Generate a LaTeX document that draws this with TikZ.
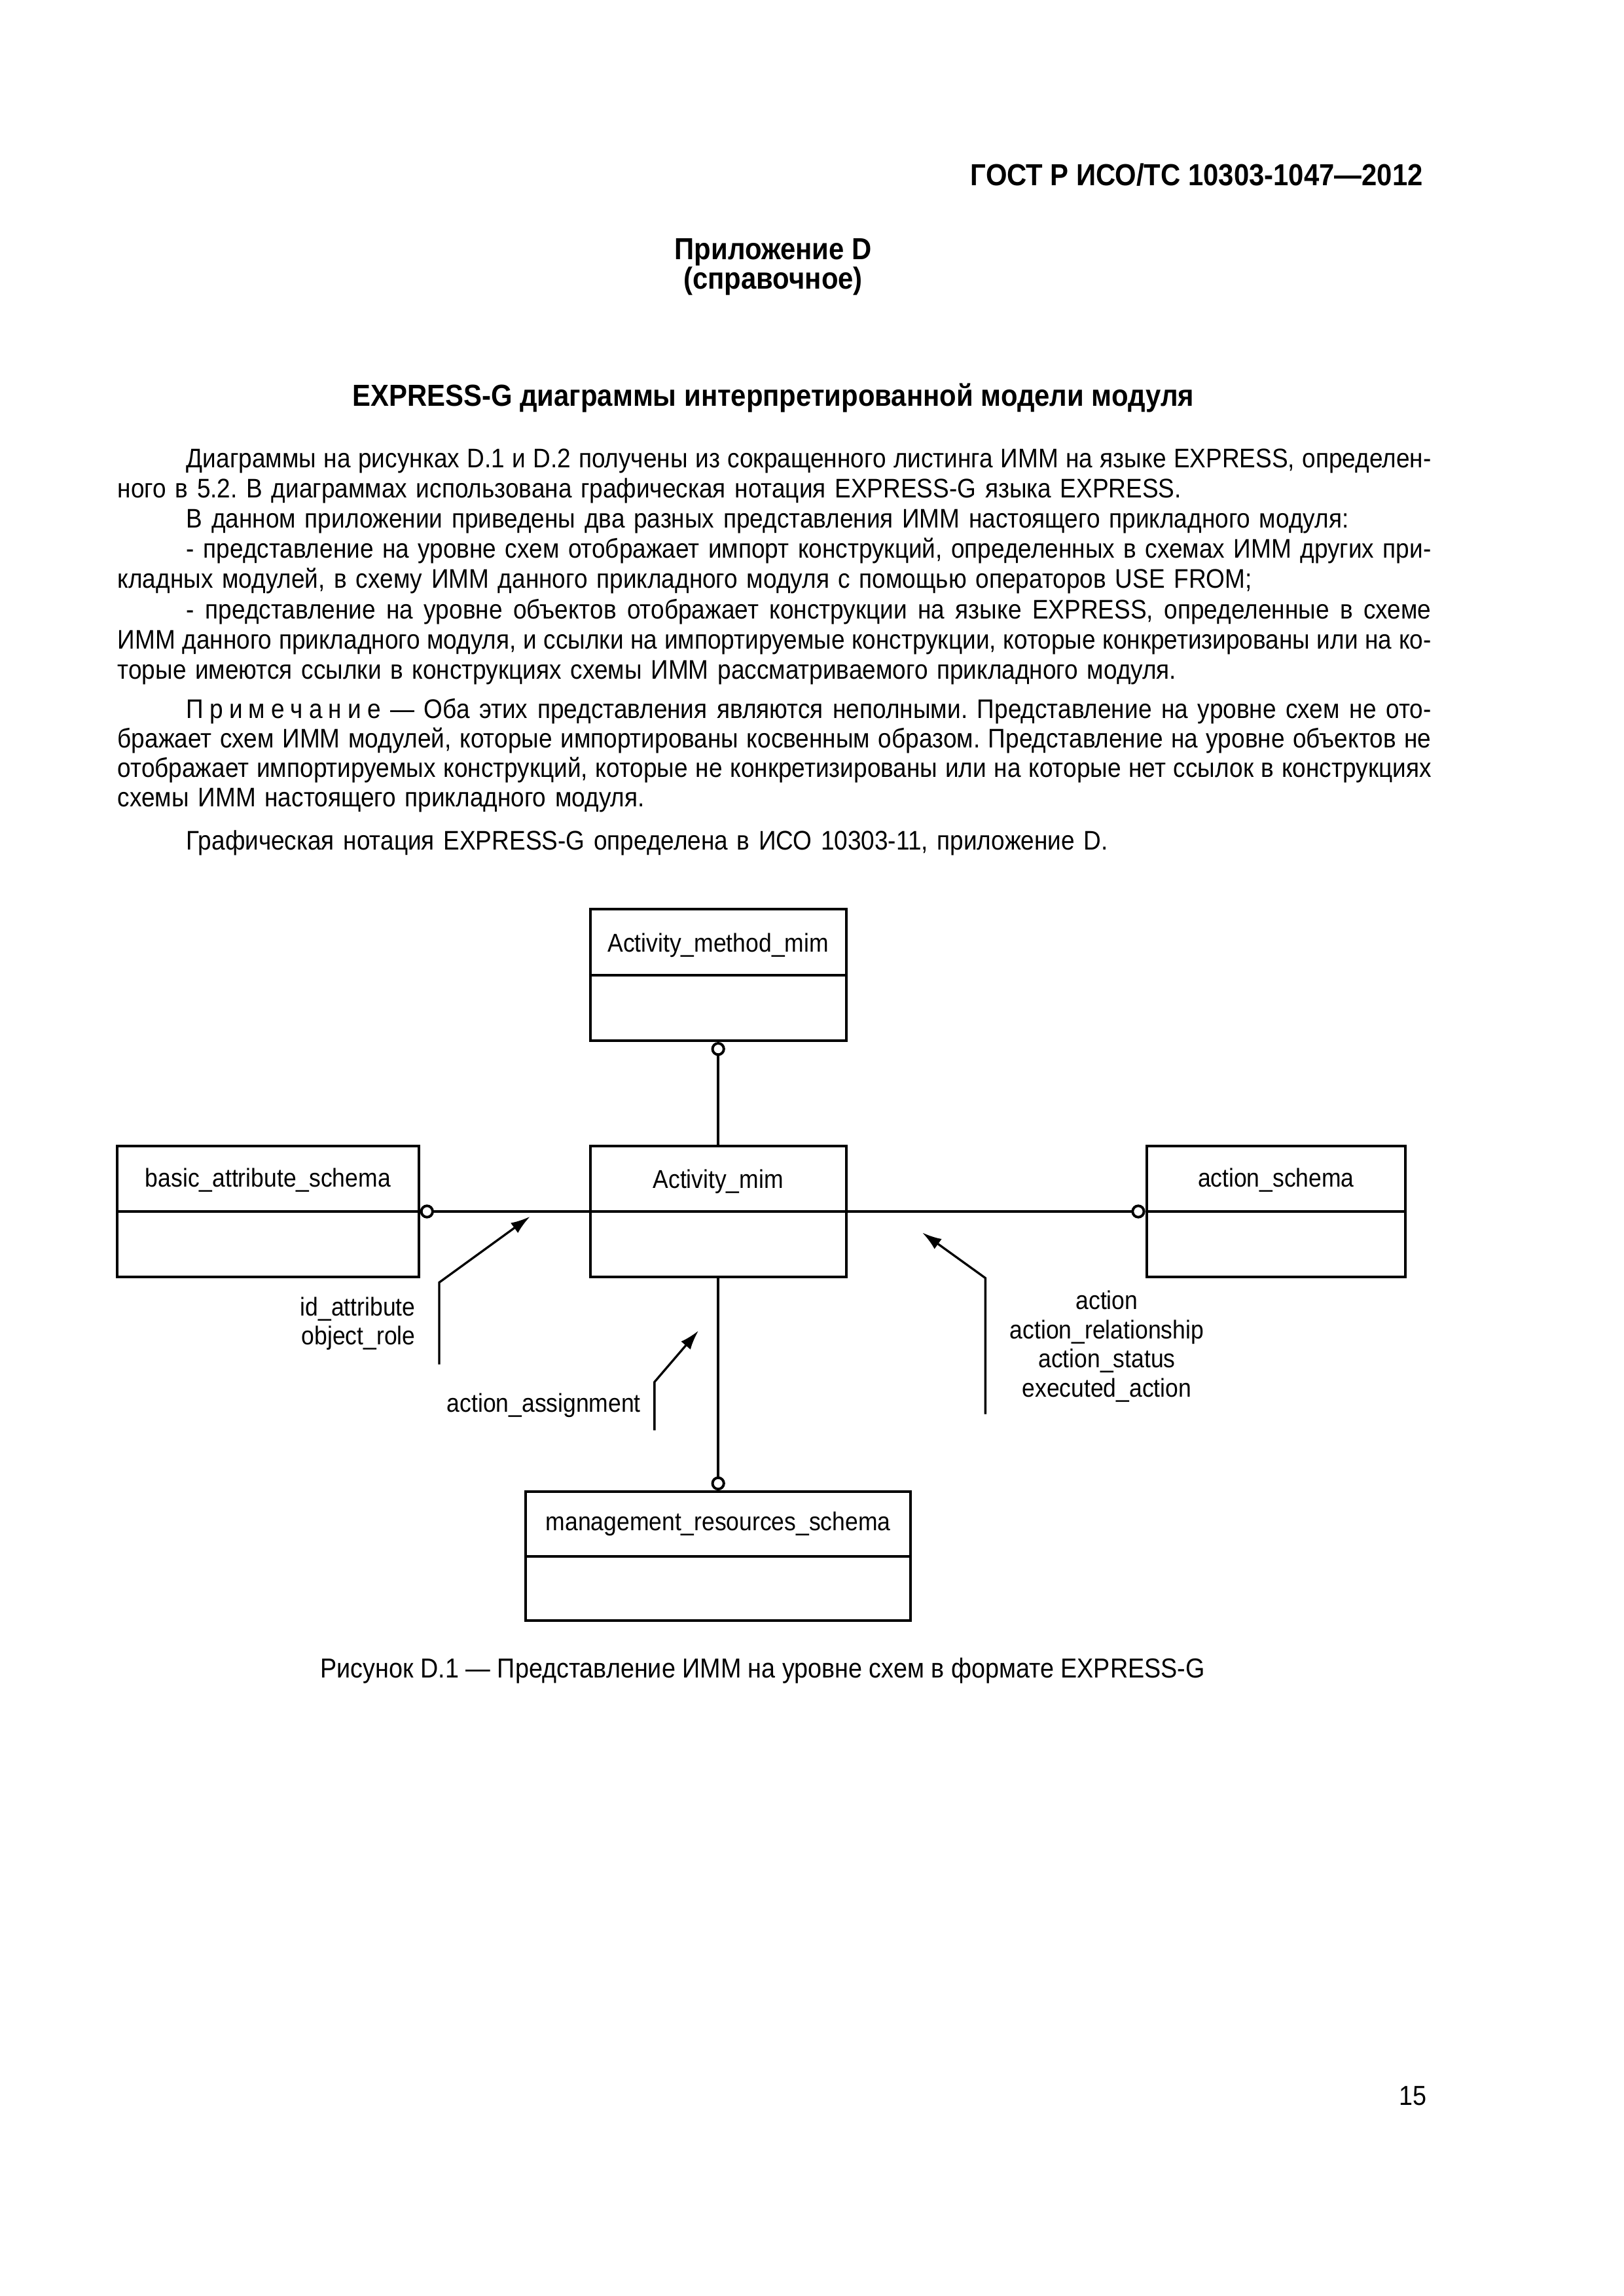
\documentclass[tikz,border=0pt]{standalone}
\usepackage{fontspec}
\setmainfont{Liberation Sans}[FakeStretch=0.9]
\usetikzlibrary{arrows.meta, positioning}
\frenchspacing

\newlength\bodywd
\setlength\bodywd{16.99cm}
\newlength\paraind
\setlength\paraind{0.89cm}
% justified line, indented justified line, indented plain line
\newcommand\tightspace{\spaceskip=.6\fontdimen2\font plus 1\fontdimen2\font\relax}
\newcommand\jline[1]{\makebox[\bodywd][s]{\tightspace #1}}
\newcommand\jfirst[1]{\hspace*{\paraind}\makebox[\dimexpr\bodywd-\paraind\relax][s]{\tightspace #1}}
\newcommand\jplain[1]{\hspace*{\paraind}#1}

\begin{document}
\begin{tikzpicture}[
    schema/.style={draw, line width=0.95pt, minimum width=3.31cm, minimum height=1.70cm,
                   inner sep=0pt},
    schemaname/.style={font=\fontsize{9.5}{11}\selectfont, inner sep=0pt},
    divider/.style={line width=0.95pt},
    uselink/.style={line width=0.95pt, -{Circle[open, length=1.8mm, line width=0.95pt]}},
    refnote/.style={line width=0.8pt, -{Latex[length=2.5mm, width=1.6mm]}},
    reflabel/.style={font=\fontsize{9.5}{10.7}\selectfont, inner sep=0pt},
    bodytext/.style={font=\fontsize{9.9}{11.1}\selectfont, text width=\bodywd, align=left,
                     anchor=base west, inner sep=0pt},
    headtext/.style={font=\fontsize{11.2}{13}\bfseries, inner sep=0pt, anchor=base}
]
    \fill[white] (0,0) rectangle (21,-29.7);
    \useasboundingbox (0,0) rectangle (21,-29.7);

    % Page head
    \node[headtext, anchor=base east] (gost) at (18.41,-2.396) {ГОСТ Р ИСО/ТС 10303-1047—2012};
    \node[headtext] (annex) at (10.0,-3.361) {Приложение D};
    \node[headtext] (annexkind) at (10.0,-3.740) {(справочное)};
    \node[headtext] (title) at (10.0,-5.255) {EXPRESS-G диаграммы интерпретированной модели модуля};

    % Body text
    \node[bodytext] (intro) at (1.515,-6.050) {%
        \jfirst{Диаграммы на рисунках D.1 и D.2 получены из сокращенного листинга ИММ на языке EXPRESS, определен-}\\
        ного в 5.2. В диаграммах использована графическая нотация EXPRESS-G языка EXPRESS.\\
        \jplain{В данном приложении приведены два разных представления ИММ настоящего прикладного модуля:}\\
        \jfirst{- представление на уровне схем отображает импорт конструкций, определенных в схемах ИММ других при-}\\
        кладных модулей, в схему ИММ данного прикладного модуля с помощью операторов USE FROM;\\
        \jfirst{- представление на уровне объектов отображает конструкции на языке EXPRESS, определенные в схеме}\\
        \jline{ИММ данного прикладного модуля, и ссылки на импортируемые конструкции, которые конкретизированы или на ко-}\\
        торые имеются ссылки в конструкциях схемы ИММ рассматриваемого прикладного модуля.};
    \node[bodytext, font=\fontsize{9.9}{10.9}\selectfont] (remark) at (1.515,-9.289) {%
        \jfirst{П\kern.22em р\kern.22em и\kern.22em м\kern.22em е\kern.22em ч\kern.22em а\kern.22em н\kern.22em и\kern.22em е — Оба этих представления являются неполными. Представление на уровне схем не ото-}\\
        \jline{бражает схем ИММ модулей, которые импортированы косвенным образом. Представление на уровне объектов не}\\
        \jline{отображает импортируемых конструкций, которые не конкретизированы или на которые нет ссылок в конструкциях}\\
        схемы ИММ настоящего прикладного модуля.};
    \node[bodytext] (notation) at (1.515,-10.993) {%
        \jplain{Графическая нотация EXPRESS-G определена в ИСО 10303-11, приложение D.}};

    % Schemas
    \node[schema] (actmethod) at (9.289,-12.612) {};
    \node[schema] (actmim) at (9.289,-15.671) {};
    \node[schema, minimum width=3.90cm] (basicattr) at (3.466,-15.671) {};
    \node[schema, minimum width=3.35cm] (actschema) at (16.504,-15.671) {};
    \node[schema, minimum width=4.98cm, minimum height=1.67cm] (mgmtres) at (9.289,-20.130) {};

    \draw[divider] (actmethod.west) -- (actmethod.east);
    \draw[divider] (actmim.west) -- (actmim.east);
    \draw[divider] (basicattr.west) -- (basicattr.east);
    \draw[divider] (actschema.west) -- (actschema.east);
    \draw[divider] (mgmtres.west) -- (mgmtres.east);

    \node[schemaname] (actmethodname) at ([yshift=-0.48cm]actmethod.north) {Activity\_method\_mim};
    \node[schemaname] (actmimname) at ([yshift=-0.48cm]actmim.north) {Activity\_mim};
    \node[schemaname] (basicattrname) at ([yshift=-0.46cm]basicattr.north) {basic\_attribute\_schema};
    \node[schemaname] (actschemaname) at ([yshift=-0.46cm]actschema.north) {action\_schema};
    \node[schemaname] (mgmtresname) at ([yshift=-0.43cm]mgmtres.north) {management\_resources\_schema};

    % USE FROM links
    \draw[uselink] (actmim.north) -- (actmethod.south);
    \draw[uselink] (actmim.west) -- (basicattr.east);
    \draw[uselink] (actmim.east) -- (actschema.west);
    \draw[uselink] (actmim.south) -- (mgmtres.north);

    % Imported constructs
    \coordinate (attrfoot) at (5.681,-17.649);
    \coordinate (attrbend) at (5.681,-16.589);
    \coordinate (attrtip) at (6.855,-15.737);
    \draw[refnote] (attrfoot) -- (attrbend) -- (attrtip);
    \node[reflabel, align=right, anchor=north east] (attrlist) at (5.378,-16.77)
        {id\_attribute\\object\_role};

    \coordinate (assignfoot) at (8.465,-18.501);
    \coordinate (assignbend) at (8.465,-17.877);
    \coordinate (assigntip) at (9.033,-17.214);
    \draw[refnote] (assignfoot) -- (assignbend) -- (assigntip);
    \node[reflabel, anchor=east] (assignlist) at (8.294,-18.18) {action\_assignment};

    \coordinate (actfoot) at (12.745,-18.293);
    \coordinate (actbend) at (12.745,-16.532);
    \coordinate (acttip) at (11.930,-15.945);
    \draw[refnote] (actfoot) -- (actbend) -- (acttip);
    \node[reflabel, align=center, anchor=north] (actlist) at (14.316,-16.69)
        {action\\action\_relationship\\action\_status\\executed\_action};

    % Caption and page number
    \node[font=\fontsize{10.1}{12}\selectfont, inner sep=0pt, anchor=base] (caption) at (9.866,-21.702)
        {Рисунок D.1 — Представление ИММ на уровне схем в формате EXPRESS-G};
    \node[font=\fontsize{10.1}{12}\selectfont, inner sep=0pt, anchor=base east] (pageno) at (18.46,-27.232) {15};
\end{tikzpicture}
\end{document}
